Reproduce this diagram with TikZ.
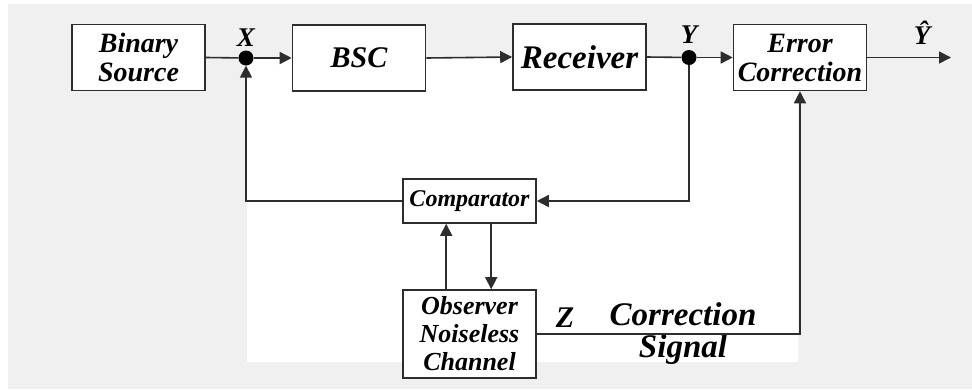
\documentclass[tikz,border=0pt]{standalone}
\usepackage{fontspec}
\setmainfont{Liberation Serif}
\usetikzlibrary{arrows.meta}
\definecolor{mygray}{RGB}{240,240,240}
\definecolor{myline}{RGB}{45,45,45}
\tikzset{
  block/.style={draw=myline, line width=1.6pt, fill=white, inner sep=0,
    align=center, font=\fontsize{28}{29}\selectfont\bfseries\itshape,
    minimum width=133pt, minimum height=66pt},
  joint/.style={circle, fill=black, inner sep=0, minimum size=15pt},
  tag/.style={inner sep=0, font=\fontsize{27}{27}\selectfont\bfseries\itshape},
  wire/.style={draw=myline, line width=1.6pt},
  arr/.style={wire, -{Triangle[length=12pt,width=12pt]}}
}

\begin{document}
\begin{tikzpicture}[x=1pt, y=-1pt]

\useasboundingbox (0,0) rectangle (972,389);
\fill[mygray] (8,4) rectangle (972,389);
\fill[white] (247,57) rectangle (798,362);

% top row
\node [block] (src) at (138.5,57.5) {Binary\\Source};
\node [joint] (xdot) at (246,58) {};
\node [block, font=\fontsize{30}{30}\selectfont\bfseries\itshape] (bsc) at (359,58) {BSC};
\node [block, font=\fontsize{33}{33}\selectfont\bfseries\itshape] (rcv) at (579.5,57) {Receiver};
\node [joint] (ydot) at (689,57.5) {};
\node [block] (ecc) at (800,57.5) {Error\\Correction};
\coordinate (out) at (951,57.5);

% feedback blocks
\node [block, minimum height=44pt, font=\fontsize{24}{24}\selectfont\bfseries\itshape] (cmp) at (469.5,201) {Comparator};
\node [block, minimum height=88pt, font=\fontsize{26}{28}\selectfont\bfseries\itshape] (obs) at (469.5,334) {Observer\\Noiseless\\Channel};

% labels
\node [tag] (xlab) at (246,38) {X};
\node [tag] (ylab) at (689,35) {Y};
\node [tag] (yhat) at (922,33) {\^Y};
\node [tag, font=\fontsize{30}{30}\selectfont\bfseries\itshape] (zlab) at (565,318) {Z};
\node [tag, align=center, font=\fontsize{33}{32}\selectfont\bfseries\itshape] (sig) at (683,334) {Correction\\Signal};

% connectors
\draw[wire] (src.east) -- (xdot);
\draw[arr] (xdot) -- (bsc.west);
\draw[arr] (bsc.east) -- (rcv.west);
\draw[wire] (rcv.east) -- (ydot);
\draw[arr] (ydot) -- (ecc.west);
\draw[arr] (ecc.east) -- (out);
\draw[arr] (ydot) |- (cmp.east);
\draw[arr] (cmp.west) -| (xdot.south);
\draw[arr] ([xshift=44pt]obs.north west) -- ([xshift=44pt]cmp.south west);
\draw[arr] ([xshift=89pt]cmp.south west) -- ([xshift=89pt]obs.north west);
\draw[arr] (obs.east) -| (ecc.south);

\end{tikzpicture}
\end{document}
